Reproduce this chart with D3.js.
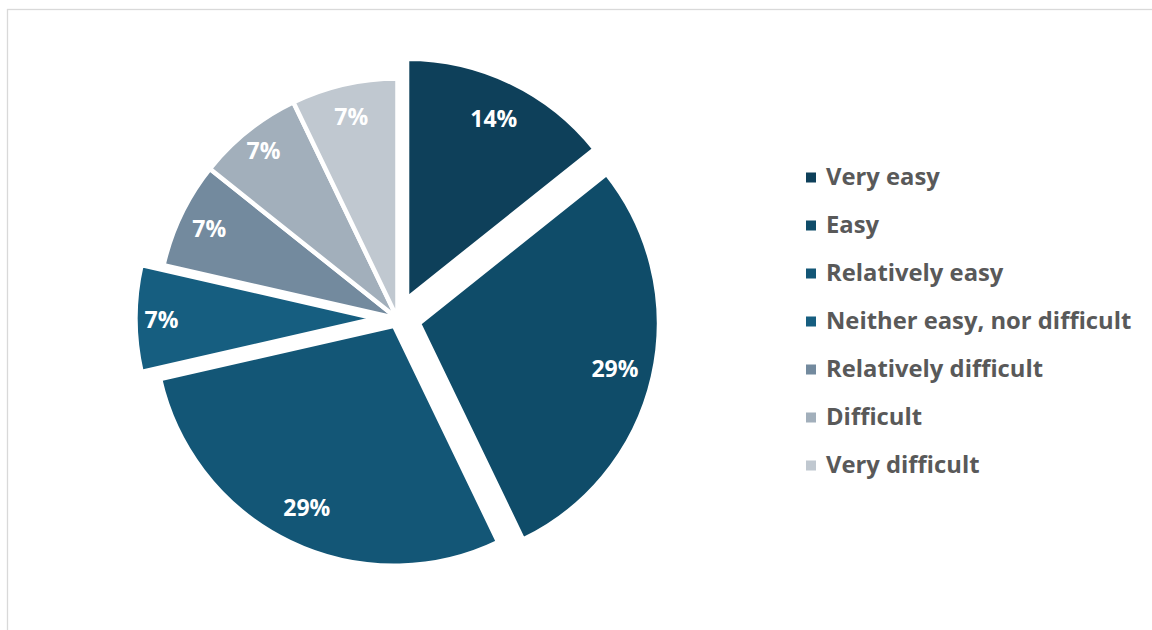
<!DOCTYPE html>
<html>
<head>
<meta charset="utf-8">
<script src="https://cdn.jsdelivr.net/npm/d3@7"></script>
<style>
  html, body { margin: 0; padding: 0; background: #ffffff; }
  svg { display: block; }
</style>
</head>
<body>
<svg id="chart" width="1152" height="630"></svg>
<script>
// Survey answers: how easy was it?
const categories = [
  "Very easy",
  "Easy",
  "Relatively easy",
  "Neither easy, nor difficult",
  "Relatively difficult",
  "Difficult",
  "Very difficult"
];
const counts = [2, 4, 4, 1, 1, 1, 1];

// Slice fills, dark blue to light grey
const colors = ["#0e405a", "#0f4c69", "#135676", "#165e80", "#738a9e", "#a2afbb", "#c0c8d0"];
// How far each slice is pulled out from the centre, in px
const pullOut = [22, 22, 8, 22, 0, 0, 0];
// Distance of each value label from its slice's own centre, in px
const labelDist = [200, 201, 201, 214, 209, 215, 208];

const svg = d3.select("#chart");
const W = 1152, H = 630;
const FONT = "'Open Sans', Inter, 'Liberation Sans', sans-serif";

// Chart area frame
svg.append("rect")
  .attr("x", 7.5).attr("y", 9.5)
  .attr("width", W).attr("height", H)
  .attr("fill", "none")
  .attr("stroke", "#d9d9d9")
  .attr("stroke-width", 1.3);

const cx = 397.5, cy = 318.5, R = 240;
const total = d3.sum(counts);
const data = categories.map((c, i) => ({ name: c, value: counts[i], index: i }));

const pie = d3.pie().sort(null).value(d => d.value).startAngle(0).endAngle(2 * Math.PI);
const arcs = pie(data);
const arc = d3.arc().innerRadius(0).outerRadius(R);

const g = svg.append("g").attr("transform", `translate(${cx},${cy})`);

const midAngle = d => (d.startAngle + d.endAngle) / 2;
const polar = (a, r) => [Math.sin(a) * r, -Math.cos(a) * r];

const slice = g.selectAll("g.slice").data(arcs).enter().append("g")
  .attr("class", "slice")
  .attr("transform", d => `translate(${polar(midAngle(d), pullOut[d.data.index])})`);

slice.append("path")
  .attr("d", arc)
  .attr("fill", d => colors[d.data.index])
  .attr("stroke", "#ffffff")
  .attr("stroke-width", 4.5)
  .attr("stroke-linejoin", "miter");

slice.append("text")
  .attr("transform", d => `translate(${polar(midAngle(d), labelDist[d.data.index])})`)
  .attr("text-anchor", "middle")
  .attr("dominant-baseline", "central")
  .attr("fill", "#ffffff")
  .attr("font-family", FONT)
  .attr("font-weight", 700)
  .attr("font-size", 23)
  .text(d => Math.round(d.data.value / total * 100) + "%");

// Legend
const legend = svg.append("g").attr("transform", "translate(806,0)");
const rowY = d3.scalePoint().domain(categories).range([177.5, 465.5]);

const item = legend.selectAll("g.item").data(data).enter().append("g")
  .attr("class", "item")
  .attr("transform", d => `translate(0,${rowY(d.name)})`);

item.append("rect")
  .attr("x", 0).attr("y", -5)
  .attr("width", 10).attr("height", 10)
  .attr("fill", d => colors[d.index]);

item.append("text")
  .attr("x", 20)
  .attr("y", -2)
  .attr("dominant-baseline", "central")
  .attr("fill", "#595959")
  .attr("font-family", FONT)
  .attr("font-weight", 700)
  .attr("font-size", 23.8)
  .text(d => d.name);
</script>
</body>
</html>
